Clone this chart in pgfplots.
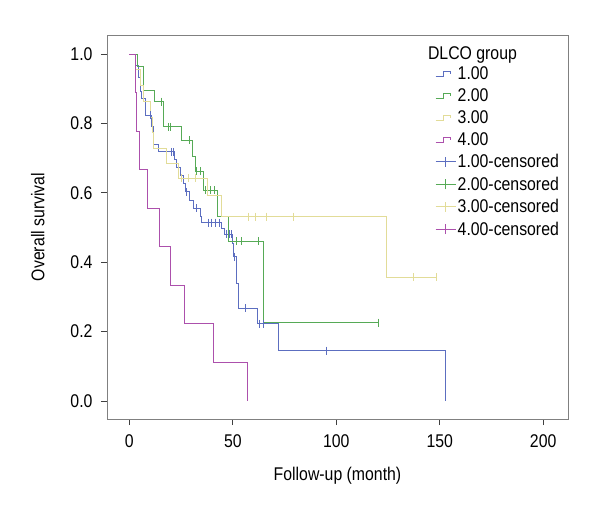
\documentclass[border=0pt]{standalone}
\usepackage{pgfplots}
\pgfplotsset{compat=1.18}
\usepackage{fontspec}
\setmainfont{Liberation Sans}[FakeStretch=0.86]
\definecolor{c1}{RGB}{92,110,192}
\definecolor{c2}{RGB}{86,170,86}
\definecolor{c3}{RGB}{226,220,152}
\definecolor{c4}{RGB}{172,80,172}
\newcommand{\fs}{\fontsize{18.4}{20}\selectfont}
\pgfplotsset{
  stepl/.style={color=#1, line width=1pt, const plot, mark=none,
    legend image code/.code={\draw[#1,line width=1pt] (0pt,-2.5pt)--(8pt,-2.5pt)--(8pt,2.5pt)--(15pt,2.5pt)--(15pt,-0.5pt);}},
  cens/.style={color=#1, only marks, mark=|, mark size=4pt, mark options={line width=1pt, draw=#1},
    legend image code/.code={\draw[draw=#1,line width=1pt] (0pt,0pt)--(20pt,0pt); \draw[draw=#1,line width=1pt] (10pt,-5pt)--(10pt,5pt);}}
}
\begin{document}
\begin{tikzpicture}
\path[use as bounding box] (-107pt,-101pt) rectangle (493pt,419pt);
\begin{axis}[
  at={(0pt,0pt)}, anchor=south west,
  scale only axis, width=461pt, height=384pt,
  xmin=-10.8, xmax=212, ymin=-0.0519, ymax=1.0548,
  xtick={0,50,100,150,200}, ytick={0,0.2,0.4,0.6,0.8,1.0},
  /pgf/number format/assume math mode=true,
  yticklabel style={/pgf/number format/.cd, fixed, fixed zerofill, precision=1, /tikz/.cd, xshift=-5pt},
  xticklabel style={yshift=-6pt},
  tick pos=left, tick align=outside, major tick length=6pt,
  tick style={black!75, line width=0.8pt},
  axis line style={black!50, line width=0.8pt},
  tick label style={font=\fs},
  xlabel={Follow-up (month)}, ylabel={Overall survival},
  every axis x label/.style={at={(axis description cs:0.5,-0.148)}, anchor=center, font=\fs},
  every axis y label/.style={at={(axis description cs:-0.150,0.5)}, rotate=90, anchor=center, font=\fs},
  legend style={at={(axis description cs:0.7115,0.922)}, anchor=north west, draw=none, fill=none,
    font=\fs, inner sep=0pt, row sep=4.6pt, nodes={inner sep=1.5pt},
    /tikz/every even column/.append style={column sep=3pt}},
  legend cell align=left,
]
\addplot[stepl=c1] coordinates {(0,1)(2.8,0.968)(4.3,0.931)(5.2,0.891)(6,0.873)(7.6,0.824)(10.8,0.79)(11.6,0.738)(13.9,0.718)(22,0.695)(23,0.672)(24.5,0.649)(26,0.626)(27.2,0.603)(29.3,0.579)(31,0.555)(34.2,0.531)(35,0.514)(44.6,0.497)(46.2,0.48)(49.7,0.454)(50.3,0.416)(51.9,0.34)(52.7,0.267)(61.8,0.222)(72.2,0.145)(153,0)};
\addlegendentry{1.00}
\addplot[stepl=c2] coordinates {(0,1)(4,0.963)(6.7,0.894)(12.1,0.863)(16.4,0.79)(25.3,0.752)(30.6,0.704)(31.8,0.662)(35.6,0.608)(42.4,0.531)(47.9,0.46)(64.7,0.226)(120.3,0.226)};
\addlegendentry{2.00}
\addplot[stepl=c3] coordinates {(0,1)(3,0.955)(5.2,0.91)(6.8,0.864)(10,0.818)(11,0.773)(11.6,0.727)(18,0.685)(23.7,0.642)(37.8,0.592)(44.6,0.531)(124.3,0.356)(148.5,0.356)};
\addlegendentry{3.00}
\addplot[stepl=c4] coordinates {(0,1)(3.1,0.889)(3.6,0.778)(4.7,0.667)(8.9,0.556)(14.8,0.444)(20.1,0.333)(26.6,0.222)(40.9,0.111)(57.2,0)};
\addlegendentry{4.00}
\addplot[cens=c1] coordinates {(10,0.824)(20.5,0.718)(21.2,0.718)(27.8,0.603)(32.6,0.555)(38.1,0.514)(39.8,0.514)(41.8,0.514)(43.4,0.514)(47,0.48)(48.6,0.48)(49.4,0.48)(51,0.416)(55.9,0.267)(62.8,0.222)(64.7,0.222)(95.4,0.145)};
\addlegendentry{1.00-censored}
\addplot[cens=c2] coordinates {(15.4,0.863)(18.8,0.79)(20,0.79)(29,0.752)(32.6,0.662)(34.2,0.662)(36.8,0.608)(39,0.608)(41.2,0.608)(51.9,0.46)(54.3,0.46)(62.3,0.46)(120.3,0.226)};
\addlegendentry{2.00-censored}
\addplot[cens=c3] coordinates {(25.3,0.642)(28.8,0.642)(32,0.642)(57.5,0.531)(61.2,0.531)(66.4,0.531)(79.2,0.531)(137.2,0.356)(148.5,0.356)};
\addlegendentry{3.00-censored}
\addlegendimage{cens=c4}
\addlegendentry{4.00-censored}
\node[anchor=west, inner sep=0pt, font=\fs] at (rel axis cs:0.696,0.949) {DLCO group};
\end{axis}
\end{tikzpicture}
\end{document}
